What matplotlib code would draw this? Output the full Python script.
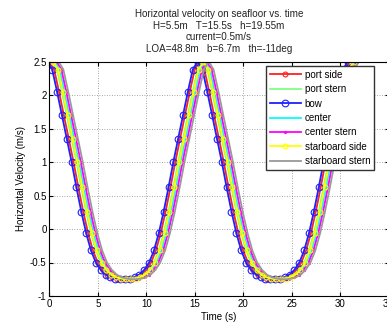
import matplotlib
matplotlib.use("Agg")
import matplotlib.pyplot as plt
import numpy as np

plt.rcParams["font.family"] = ["Liberation Sans", "DejaVu Sans"]

# one wave period (T = 15.5 s) of seafloor velocity, read every 0.5 s from the chart
period = 15.5
t_period = np.arange(0, 15.5, 0.5)
v_period = [2.50, 2.38, 2.05, 1.70, 1.35, 1.00, 0.62, 0.26, -0.06, -0.32,
            -0.50, -0.61, -0.68, -0.72, -0.74, -0.75, -0.75, -0.74, -0.72, -0.68,
            -0.61, -0.50, -0.32, -0.06, 0.26, 0.62, 1.00, 1.35, 1.70, 2.05, 2.38]

t_base = np.concatenate([t_period, t_period + period, [2 * period]])
v_base = np.concatenate([v_period, v_period, [2.50]])

labels = ["port side", "port stern", "bow", "center", "center stern",
          "starboard side", "starboard stern"]
# arrival time of the crest at each point on the hull (s)
lags = [0.0, 0.3, -0.2, 0.55, 0.75, 0.4, 0.95]

colors = ["#ff2020", "#80ff80", "#2020ff", "#00ffff", "#ff00ff", "#ffff00", "#999999"]
markers = ["o", None, "o", None, ".", "o", None]
msizes = [3.5, 0, 4.8, 0, 3, 3.5, 0]

fig = plt.figure(figsize=(3.87, 3.23), dpi=100)
ax = fig.add_axes([49.3 / 387, 1 - 296 / 323, (388.5 - 49.3) / 387, (296 - 61.5) / 323])

for lab, lag, c, m, ms in zip(labels, lags, colors, markers, msizes):
    ax.plot(t_base + lag, v_base, color=c, lw=1.3, marker=m, ms=ms,
            mfc="none", mew=0.8, label=lab)

ax.set_xlim(0, 35)
ax.set_ylim(-1, 2.5)
ax.set_xticks(np.arange(0, 36, 5))
ax.set_yticks([-1, -0.5, 0, 0.5, 1, 1.5, 2, 2.5])
ax.set_yticklabels(["-1", "-0.5", "0", "0.5", "1", "1.5", "2", "2.5"])
ax.tick_params(direction="in", labelsize=7, length=3, top=True, right=True, pad=2)
ax.grid(True, linestyle=(0, (1, 2)), color="#888888", lw=0.6)
for s in ax.spines.values():
    s.set_linewidth(0.8)

ax.set_title("Horizontal velocity on seafloor vs. time\n"
             "H=5.5m   T=15.5s   h=19.55m\n"
             "current=0.5m/s\n"
             "LOA=48.8m   b=6.7m   th=-11deg",
             fontsize=7.1, linespacing=1.2, pad=7, color="#222222")
ax.set_xlabel("Time (s)", fontsize=7, labelpad=2)
ax.set_ylabel("Horizontal Velocity (m/s)", fontsize=7, labelpad=3)

ax.legend(loc="upper left", bbox_to_anchor=(266 / 387, 1 - 66 / 323),
          bbox_transform=fig.transFigure, fontsize=7, handlelength=3.2,
          labelspacing=0.45, borderaxespad=0, fancybox=False,
          edgecolor="#333333", framealpha=1, handletextpad=0.4, borderpad=0.4)

fig.savefig("out.png", dpi=100)
plt.close(fig)
